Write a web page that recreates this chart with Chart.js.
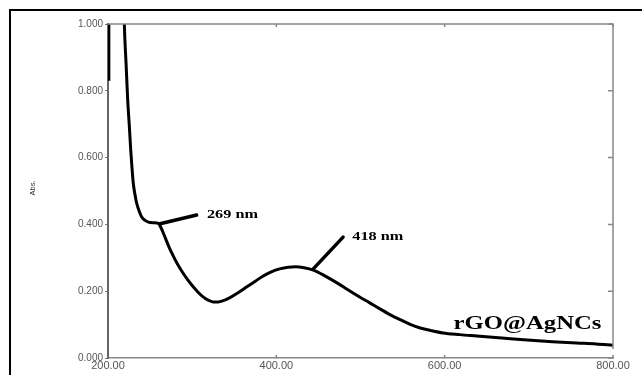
<!DOCTYPE html>
<html>
<head>
<meta charset="utf-8">
<script src="https://cdn.jsdelivr.net/npm/chart.js@4/dist/chart.umd.min.js"></script>
<style>
  body { margin: 0; background: #fff; }
  canvas { display: block; }
</style>
</head>
<body>
<canvas id="spectre" width="642" height="375"></canvas>
<script>
// Spectre UV-vis rGO@AgNCs
const wavelength = [219, 219.4, 221.5, 223.4, 225.2, 227, 228.5, 230, 232, 234, 237, 240, 244, 248, 254, 259.8, 263, 267.7, 272, 277.6, 283, 289.5, 295, 301, 307, 313, 319, 325, 331, 337, 345, 355, 365, 375, 384, 394, 404, 414, 423, 433, 444, 454, 464, 474, 484, 499.5, 511, 523, 535, 547, 559, 571, 584, 598, 618, 638, 668, 698, 728, 757, 780, 800];
const absorbance = [1.05, 1.0, 0.88, 0.772, 0.70, 0.623, 0.57, 0.524, 0.49, 0.464, 0.44, 0.422, 0.412, 0.407, 0.405, 0.403, 0.39, 0.362, 0.335, 0.305, 0.279, 0.253, 0.233, 0.214, 0.197, 0.183, 0.173, 0.168, 0.168, 0.172, 0.181, 0.196, 0.213, 0.23, 0.245, 0.258, 0.267, 0.272, 0.273, 0.27, 0.263, 0.251, 0.237, 0.222, 0.206, 0.182, 0.165, 0.147, 0.130, 0.115, 0.101, 0.090, 0.082, 0.075, 0.070, 0.066, 0.060, 0.054, 0.049, 0.045, 0.042, 0.038];

// petit trait vertical au début (200 nm)
const spikeWavelength = [201, 201];
const spikeAbsorbance = [0.83, 1.0];

const xTicks = [200, 400, 600, 800];
const yTicks = [0, 0.2, 0.4, 0.6, 0.8, 1.0];

// annotations : texte, début du trait, fin du trait, position du texte
const peakLabels = ['269 nm', '418 nm'];
const peakLineStart = [[261.8, 0.402], [443.6, 0.266]];
const peakLineEnd = [[305.3, 0.428], [479.3, 0.362]];
const peakTextPos = [[317.6, 0.418], [490.3, 0.353]];

const sampleName = 'rGO@AgNCs';
const sampleTextPos = [610.6, 0.087];

const toPoints = (xs, ys) => xs.map((x, i) => ({ x: x, y: ys[i] }));

function stretchedText(ctx, text, x, y, font, sx) {
    ctx.save();
    ctx.font = font;
    ctx.fillStyle = '#000';
    ctx.textBaseline = 'alphabetic';
    ctx.translate(x, y);
    ctx.scale(sx, 1);
    ctx.fillText(text, 0, 0);
    ctx.restore();
}

const cadrePlugin = {
    id: 'cadre',
    afterDatasetsDraw(chart) {
        const ctx = chart.ctx;
        const xs = chart.scales.x;
        const ys = chart.scales.y;
        const a = chart.chartArea;

        // haut et droite du cadre
        ctx.save();
        ctx.strokeStyle = '#888';
        ctx.lineWidth = 1.5;
        ctx.beginPath();
        ctx.moveTo(a.left, a.top);
        ctx.lineTo(a.right, a.top);
        ctx.lineTo(a.right, a.bottom - 9);
        ctx.stroke();

        // graduations vers l'intérieur
        ctx.beginPath();
        yTicks.forEach(v => {
            const py = ys.getPixelForValue(v);
            ctx.moveTo(a.right, py);
            ctx.lineTo(a.right - 5, py);
        });
        xTicks.slice(1).forEach(v => {
            const px = xs.getPixelForValue(v);
            ctx.moveTo(px, a.top);
            ctx.lineTo(px, a.top + 3);
            ctx.moveTo(px, a.bottom);
            ctx.lineTo(px, a.bottom - 3);
        });
        ctx.stroke();
        ctx.restore();

        // traits des pics
        ctx.save();
        ctx.strokeStyle = '#000';
        ctx.lineWidth = 3.5;
        ctx.lineCap = 'round';
        peakLineStart.forEach((s, i) => {
            const e = peakLineEnd[i];
            ctx.beginPath();
            ctx.moveTo(xs.getPixelForValue(s[0]), ys.getPixelForValue(s[1]));
            ctx.lineTo(xs.getPixelForValue(e[0]), ys.getPixelForValue(e[1]));
            ctx.stroke();
        });
        ctx.restore();

        peakLabels.forEach((t, i) => {
            const p = peakTextPos[i];
            stretchedText(ctx, t, xs.getPixelForValue(p[0]), ys.getPixelForValue(p[1]),
                'bold 12.5px "Liberation Serif"', 1.3);
        });
        stretchedText(ctx, sampleName, xs.getPixelForValue(sampleTextPos[0]), ys.getPixelForValue(sampleTextPos[1]),
            'bold 19px "Liberation Serif"', 1.3);

        // titre axe Y
        ctx.save();
        ctx.font = '7.5px "Liberation Sans"';
        ctx.fillStyle = '#333';
        ctx.textAlign = 'center';
        ctx.textBaseline = 'middle';
        ctx.translate(33, 188);
        ctx.rotate(-Math.PI / 2);
        ctx.fillText('Abs.', 0, 0);
        ctx.restore();

        // cadre noir extérieur
        ctx.save();
        ctx.fillStyle = '#000';
        ctx.fillRect(9, 9, chart.width - 9, 2);
        ctx.fillRect(9, 9, 2, chart.height - 9);
        ctx.restore();
    }
};

new Chart(document.getElementById('spectre').getContext('2d'), {
    type: 'line',
    data: {
        datasets: [{
            data: toPoints(wavelength, absorbance),
            borderColor: '#000',
            borderWidth: 3,
            pointRadius: 0,
            cubicInterpolationMode: 'monotone',
            fill: false
        }, {
            data: toPoints(spikeWavelength, spikeAbsorbance),
            borderColor: '#000',
            borderWidth: 3,
            pointRadius: 0,
            fill: false
        }]
    },
    options: {
        responsive: false,
        animation: false,
        layout: { padding: { top: 24, right: 29, left: 0, bottom: 0 } },
        plugins: { legend: { display: false }, tooltip: { enabled: false } },
        scales: {
            x: {
                type: 'linear',
                min: 200,
                max: 800,
                afterFit: s => { s.height = 17; },
                afterBuildTicks: s => { s.ticks = xTicks.map(v => ({ value: v })); },
                ticks: {
                    callback: v => v.toFixed(2),
                    color: '#555',
                    font: { family: 'Liberation Sans', size: 11 },
                    padding: 1,
                    maxRotation: 0
                },
                grid: { drawOnChartArea: false, tickLength: 0, color: '#888' },
                border: { color: '#888', width: 1.5 }
            },
            y: {
                min: 0,
                max: 1,
                afterFit: s => { s.width = 108; },
                afterBuildTicks: s => { s.ticks = yTicks.map(v => ({ value: v })); },
                ticks: {
                    callback: v => v.toFixed(3),
                    color: '#555',
                    font: { family: 'Liberation Sans', size: 10 },
                    padding: 2
                },
                grid: { drawOnChartArea: false, tickLength: 3, color: '#777' },
                border: { color: '#666', width: 2 }
            }
        }
    },
    plugins: [cadrePlugin]
});
</script>
</body>
</html>
